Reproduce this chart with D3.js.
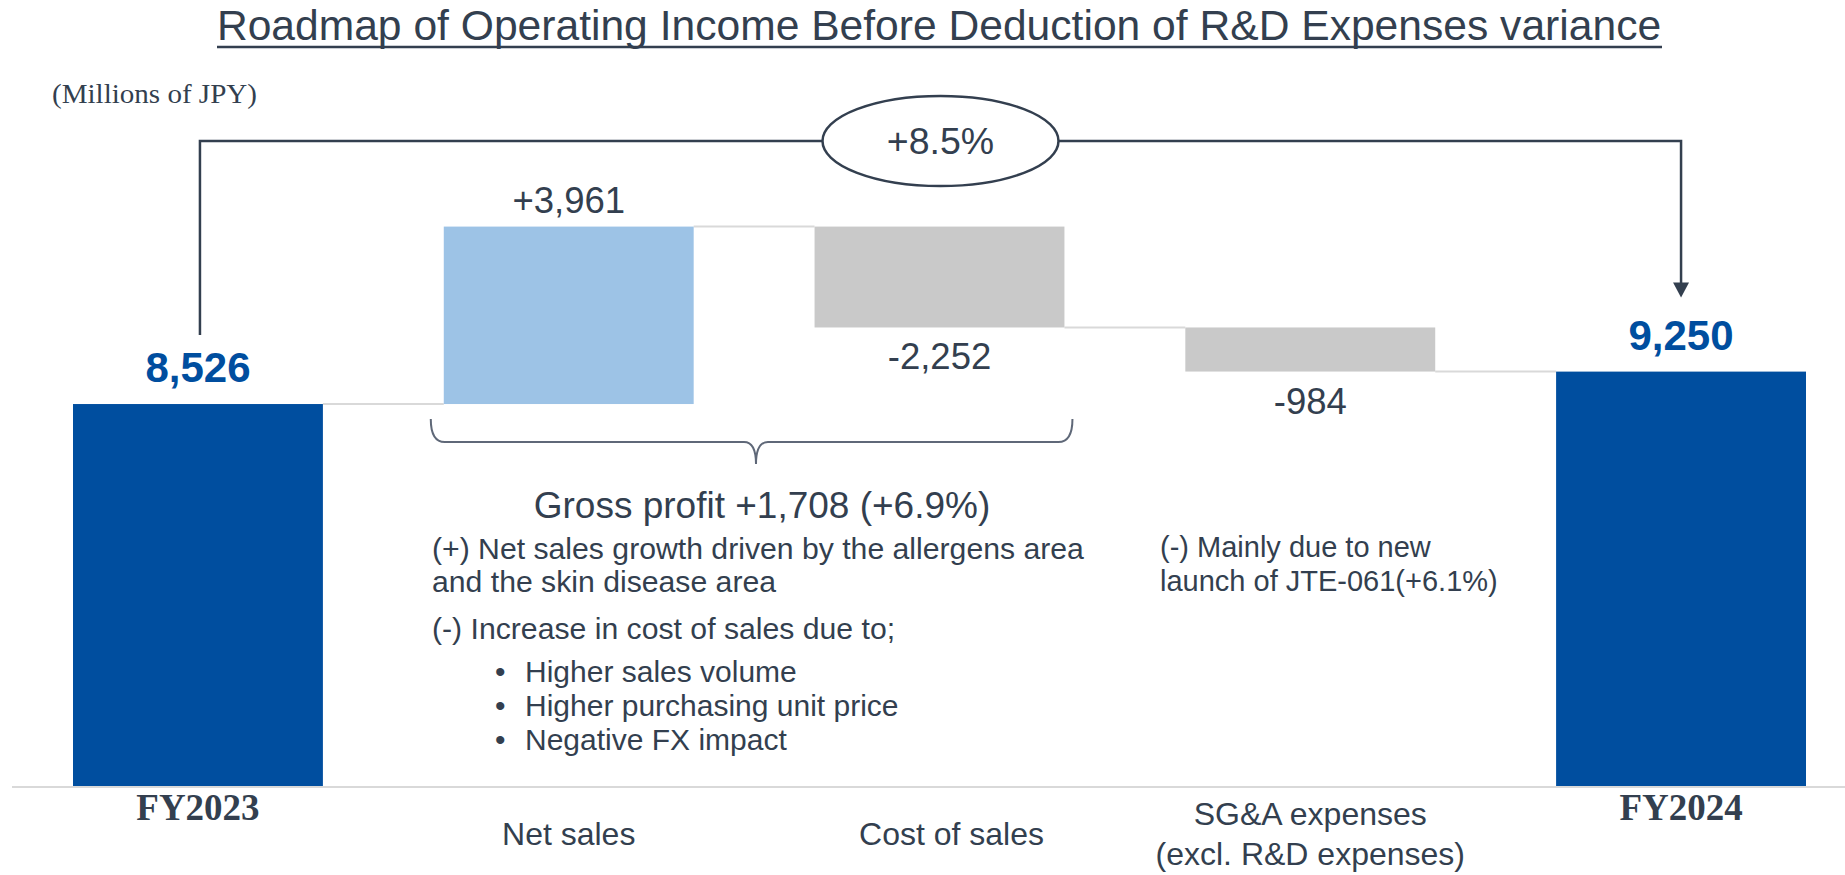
<!DOCTYPE html>
<html>
<head>
<meta charset="utf-8">
<script src="https://cdn.jsdelivr.net/npm/d3@7"></script>
<style>
  html, body { margin: 0; padding: 0; background: #fff; }
  svg { display: block; }
</style>
</head>
<body>
<div id="root"></div>
<script>
// data (Millions of JPY)
const categories = ["FY2023", "Net sales", "Cost of sales", "SG&A expenses", "FY2024"];
const values = [8526, 3961, -2252, -984, 9250];
const kinds = ["total", "up", "down", "down", "total"];
const valueLabels = ["8,526", "+3,961", "-2,252", "-984", "9,250"];
const axisLabels = [["FY2023"], ["Net sales"], ["Cost of sales"], ["SG&A expenses", "(excl. R&D expenses)"], ["FY2024"]];
const changeLabel = "+8.5%";
const grossProfitLabel = "Gross profit +1,708 (+6.9%)";
const grossNotes = [
  "(+) Net sales growth driven by the allergens area",
  "and the skin disease area",
  "(-) Increase in cost of sales due to;"
];
const grossBullets = ["Higher sales volume", "Higher purchasing unit price", "Negative FX impact"];
const sgaNotes = ["(-) Mainly due to new", "launch of JTE-061(+6.1%)"];

const W = 1845, H = 875;
const INK = "#333f4f";
const SANS = "'Liberation Sans', Arial, sans-serif";
const SERIF = "'Liberation Serif', 'Times New Roman', serif";
const colors = { total: "#004e9f", up: "#9dc3e6", down: "#c9c9c9", link: "#d9d9d9" };

const svg = d3.select("#root").append("svg")
  .attr("width", W)
  .attr("height", H);

const x = d3.scaleBand()
  .domain(categories)
  .range([73, 1806])
  .paddingInner(0.326)
  .paddingOuter(0);

const y = d3.scaleLinear()
  .domain([0, 10000])
  .range([786, 338]);

// running totals for the waterfall
let level = 0;
const steps = categories.map((c, i) => {
  let from, to;
  if (kinds[i] === "total") { from = 0; to = values[i]; level = values[i]; }
  else { from = level; to = level + values[i]; level = to; }
  return { cat: c, kind: kinds[i], from, to, label: valueLabels[i], lines: axisLabels[i] };
});

function addText(parent, str, px, py, o = {}) {
  return parent.append("text")
    .text(str)
    .attr("x", px)
    .attr("y", py)
    .attr("text-anchor", o.anchor || "start")
    .attr("font-family", o.family || SANS)
    .attr("font-size", o.size || 30)
    .attr("font-weight", o.weight || "normal")
    .attr("fill", o.fill || INK);
}

// title
addText(svg, "Roadmap of Operating Income Before Deduction of R&D Expenses variance", 939, 40,
  { size: 42.6, anchor: "middle" });
svg.append("line")
  .attr("x1", 217).attr("x2", 1662)
  .attr("y1", 47).attr("y2", 47)
  .attr("stroke", INK).attr("stroke-width", 2.5);

addText(svg, "(Millions of JPY)", 52, 103, { size: 27, family: SERIF })
  .attr("textLength", 205).attr("lengthAdjust", "spacingAndGlyphs");

// baseline
svg.append("line")
  .attr("x1", 12).attr("x2", W)
  .attr("y1", y(0) + 1).attr("y2", y(0) + 1)
  .attr("stroke", colors.link).attr("stroke-width", 2);

// connectors between bars
const links = steps.slice(0, -1).map((s, i) => ({ a: s, b: steps[i + 1] }));
svg.append("g").selectAll("line")
  .data(links)
  .join("line")
  .attr("x1", d => x(d.a.cat) + x.bandwidth())
  .attr("x2", d => x(d.b.cat))
  .attr("y1", d => y(d.a.to))
  .attr("y2", d => y(d.a.to))
  .attr("stroke", colors.link)
  .attr("stroke-width", 2);

// bars
svg.append("g").selectAll("rect")
  .data(steps)
  .join("rect")
  .attr("x", d => x(d.cat))
  .attr("width", x.bandwidth())
  .attr("y", d => y(Math.max(d.from, d.to)))
  .attr("height", d => Math.abs(y(d.from) - y(d.to)))
  .attr("fill", d => colors[d.kind]);

// value labels
steps.forEach(d => {
  const cx = x(d.cat) + x.bandwidth() / 2;
  if (d.kind === "total") {
    addText(svg, d.label, cx, y(d.to) - 22, { size: 42, weight: "bold", anchor: "middle", fill: colors.total });
  } else if (d.kind === "up") {
    addText(svg, d.label, cx, y(d.to) - 14, { size: 36.5, anchor: "middle" });
  } else {
    addText(svg, d.label, cx, y(d.to) + 42, { size: 36.5, anchor: "middle" });
  }
});

// category labels (cost of sales sits a little right of its bar on the slide)
const labelNudge = { "Cost of sales": 12 };
steps.forEach(d => {
  const cx = x(d.cat) + x.bandwidth() / 2 + (labelNudge[d.cat] || 0);
  if (d.kind === "total") {
    addText(svg, d.lines[0], cx, 820, { size: 37, weight: "bold", anchor: "middle", family: SERIF });
  } else if (d.lines.length === 1) {
    addText(svg, d.lines[0], cx, 845, { size: 32, anchor: "middle" });
  } else {
    d.lines.forEach((t, k) => addText(svg, t, cx, 825 + k * 40, { size: 32, anchor: "middle" }));
  }
});

// bracket showing overall change
const first = steps[0], last = steps[steps.length - 1];
const lx = x(first.cat) + x.bandwidth() / 2 + 2;
const rx = x(last.cat) + x.bandwidth() / 2;
const topY = 141;
const ex = (lx + rx) / 2, ery = 45, erx = 118;
const arrowTip = y(last.to) - 74;

const bracket = svg.append("g")
  .attr("fill", "none")
  .attr("stroke", INK)
  .attr("stroke-width", 2.5);
bracket.append("path")
  .attr("d", `M${lx},${y(first.to) - 69} V${topY} H${ex - erx}`);
bracket.append("path")
  .attr("d", `M${ex + erx},${topY} H${rx} V${arrowTip - 14}`);
bracket.append("ellipse")
  .attr("cx", ex).attr("cy", topY)
  .attr("rx", erx).attr("ry", ery)
  .attr("fill", "#fff");
svg.append("path")
  .attr("d", `M${rx - 8},${arrowTip - 15} L${rx + 8},${arrowTip - 15} L${rx},${arrowTip} Z`)
  .attr("fill", INK);
addText(svg, changeLabel, ex, topY + 13, { size: 37.5, anchor: "middle" });

// curly brace under net sales + cost of sales
const bl = x("Net sales") - 13;
const br = x("Cost of sales") + x.bandwidth() + 8;
const bm = 756, bt = 419, bh = 442, btip = 464;
svg.append("path")
  .attr("d", `M${bl},${bt} Q${bl},${bh} ${bl + 14},${bh} L${bm - 12},${bh} Q${bm},${bh} ${bm},${btip}` +
             ` Q${bm},${bh} ${bm + 12},${bh} L${br - 14},${bh} Q${br},${bh} ${br},${bt}`)
  .attr("fill", "none")
  .attr("stroke", "#5f6878")
  .attr("stroke-width", 2);

addText(svg, grossProfitLabel, 762, 518, { size: 37, anchor: "middle" });

const noteY = [559, 592, 639];
grossNotes.forEach((t, i) => addText(svg, t, 432, noteY[i], { size: 30.2 }));
grossBullets.forEach((t, i) => {
  addText(svg, "\u2022", 495, 682 + i * 34, { size: 30 });
  addText(svg, t, 525, 682 + i * 34, { size: 30 });
});
sgaNotes.forEach((t, i) => addText(svg, t, 1160, 557 + i * 34, { size: 29 }));
</script>
</body>
</html>
